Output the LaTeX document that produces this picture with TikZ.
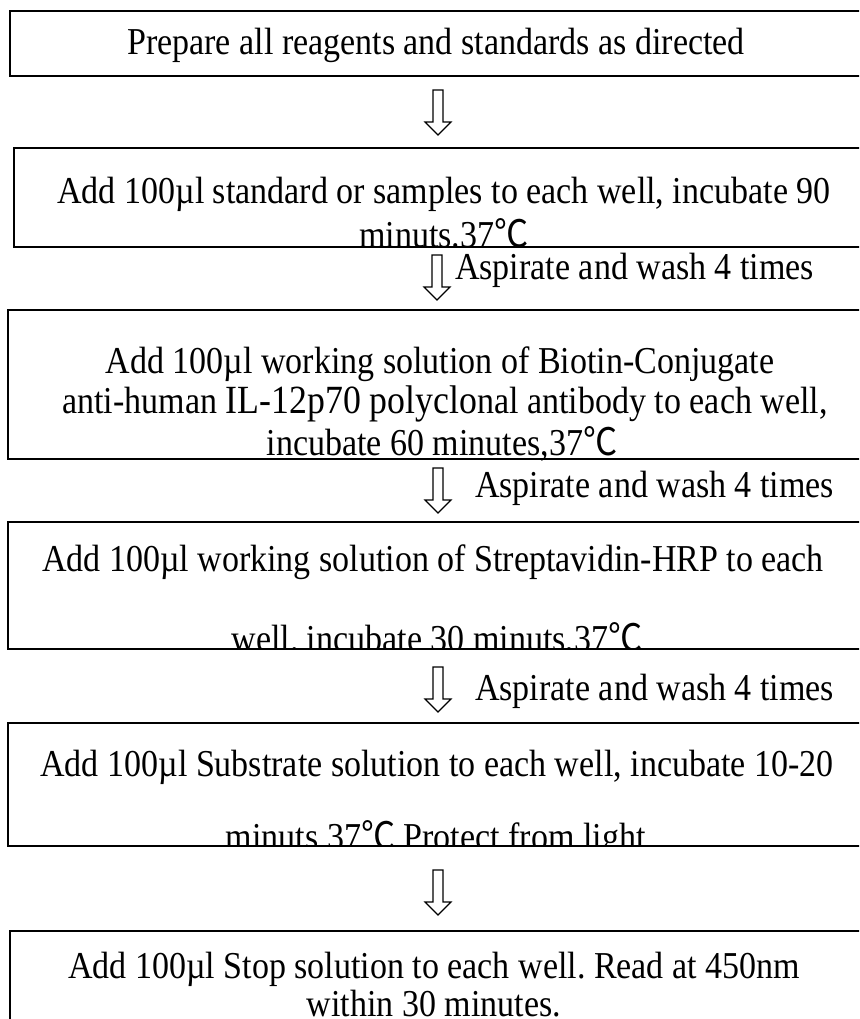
\documentclass[tikz,border=0pt]{standalone}
\usepackage{fontspec}
\setmainfont[FakeStretch=0.895]{Liberation Serif}
\newfontfamily\cjkfont[FakeStretch=0.9]{Noto Sans CJK SC}
\newcommand{\dC}{{\cjkfont ℃}}
\tikzset{
  stepbox/.style={draw=black, line width=1.6pt, anchor=north west, minimum width=880pt, inner sep=0pt},
  txt/.style={font=\fontsize{38}{42}\selectfont, inner sep=0pt, anchor=base},
  arrowshape/.style={draw=black, line width=1.2pt, fill=white, line join=miter},
  darr/.pic={\draw[arrowshape] (-5,0) -- (5,0) -- (5,32) -- (13,32) -- (0,45) -- (-13,32) -- (-5,32) -- cycle;}
}
\frenchspacing
\begin{document}
\begin{tikzpicture}[x=1pt,y=-1pt]
\clip (0,0) rectangle (859,1019);
\fill[white] (0,0) rectangle (859,1019);
% boxes
\node[stepbox, minimum height=65pt]  (b1) at (9,10)  {};
\node[stepbox, minimum height=99pt]  (b2) at (13,147) {};
\node[stepbox, minimum height=149pt] (b3) at (7,309) {};
\node[stepbox, minimum height=127pt] (b4) at (7,521) {};
\node[stepbox, minimum height=123pt] (b5) at (7,722) {};
\node[stepbox, minimum height=150pt] (b6) at (9,930) {};
% texts
\node[txt] (t1) at (436,55) {Prepare all reagents and standards as directed};
\begin{scope}
\clip (b2.north west) rectangle ([yshift=0.8pt]b2.south east);
\node[txt] (t2a) at (444,204) {Add 100µl standard or samples to each well, incubate 90};
\node[txt] (t2b) at (444,247) {minuts.37\dC};
\end{scope}
\node[txt] (t3a) at (440,373) {Add 100µl working solution of Biotin-Conjugate};
\node[txt] (t3b) at (445,413) {anti-human {\fontsize{40}{42}\selectfont IL-12p70 polyclo}nal antibody to each well,};
\node[txt] (t3c) at (442,455) {incubate 60 minutes,37\dC};
\begin{scope}
\clip (b4.north west) rectangle ([yshift=0.8pt]b4.south east);
\node[txt] (t4a) at (433,571) {Add 100µl working solution of Streptavidin-HRP to each};
\node[txt] (t4b) at (437,651) {well. incubate 30 minuts,37\dC};
\end{scope}
\begin{scope}
\clip (b5.north west) rectangle ([yshift=0.8pt]b5.south east);
\node[txt] (t5a) at (437,776) {Add 100µl Substrate solution to each well, incubate 10-20};
\node[txt] (t5b) at (440,849) {minuts.37\dC.Protect from light.};
\end{scope}
\node[txt] (t6a) at (434,978) {Add 100µl Stop solution to each well. Read at 450nm};
\node[txt] (t6b) at (434,1016) {within 30 minutes.};
% arrows
\pic at (438,90) {darr};
\pic at (437,255) {darr};
\node[txt, anchor=base west] (l2) at (455,279) {Aspirate and wash 4 times};
\pic at (438,468) {darr};
\node[txt, anchor=base west] (l3) at (475,497) {Aspirate and wash 4 times};
\pic at (438,667) {darr};
\node[txt, anchor=base west] (l4) at (475,700) {Aspirate and wash 4 times};
\pic at (438,870) {darr};
\end{tikzpicture}
\end{document}
